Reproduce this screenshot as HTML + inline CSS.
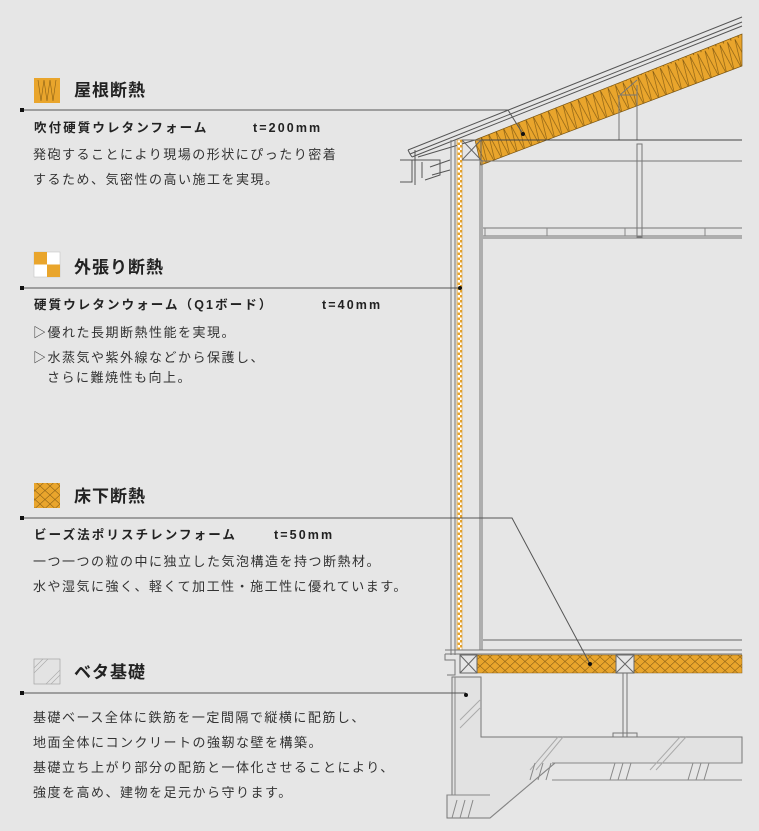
<!DOCTYPE html>
<html><head><meta charset="utf-8"><style>
body{margin:0;background:#e6e6e6;}
#c{position:relative;width:759px;height:831px;overflow:hidden;background:#e6e6e6;font-family:"Liberation Sans","Noto Sans CJK JP",sans-serif;color:#222;}
.t{position:absolute;white-space:nowrap;line-height:18px;}
.h{font-size:17px;font-weight:bold;letter-spacing:1px;line-height:22px;}
.s{font-size:12.5px;font-weight:bold;letter-spacing:2.1px;}
.b{font-size:13px;letter-spacing:1.5px;color:#333;}
svg{position:absolute;left:0;top:0;}
</style></head><body><div id="c">
<svg width="759" height="831" viewBox="0 0 759 831">
<defs>
<pattern id="zz" width="8" height="30" patternUnits="userSpaceOnUse" patternTransform="rotate(-21)">
<rect width="8" height="30" fill="#e9a52c"/><path d="M0 0 L4 30 L8 0" fill="none" stroke="#7a5410" stroke-width="0.6"/></pattern>
<pattern id="xx" width="10" height="9" patternUnits="userSpaceOnUse">
<rect width="10" height="9" fill="#e9a52c"/><path d="M0 0 L10 9 M10 0 L0 9" stroke="#8a6015" stroke-width="0.6"/></pattern>
<pattern id="ck" width="5" height="5" patternUnits="userSpaceOnUse">
<rect width="5" height="5" fill="#fff"/><rect width="2.5" height="2.5" fill="#e9a52c"/><rect x="2.5" y="2.5" width="2.5" height="2.5" fill="#e9a52c"/></pattern>
</defs>
<g fill="none" stroke="#555" stroke-width="1">
<path d="M408 150 L742 17 M410 154 L742 22 M412 157 L742 26"/>
<path d="M408 150 L410 154 L412 157"/>
<path d="M418 157 L475 140 M415 150 L415 185 M412 160 L440 160 L440 175 L425 180"/>
<path d="M400 160 L412 160 L412 182 L400 182"/>
<path d="M422 162 L422 178 M430 167 L450 160 M432 175 L450 170"/>
<polygon points="475,140 742,34 742,66 481,165" fill="url(#zz)" stroke="#7a5410" stroke-width="0.7"/>
<path d="M619 95 L619 140 M637 85 L637 140 M620 95 L637 95 M620 95 L637 80" stroke="#777"/>
<path d="M462 140 L742 140" stroke="#444"/>
<path d="M481 161 L742 161" stroke="#777"/>
<rect x="462" y="140" width="19" height="20" stroke="#666"/>
<path d="M462 140 L481 160 M481 140 L462 160" stroke="#666"/>
<rect x="637" y="144" width="5" height="93" stroke="#777"/>
<path d="M483 228 L742 228 M483 236 L742 236 M483 238 L742 238" stroke="#777"/>
<path d="M485 228 L485 236 M547 228 L547 236 M625 228 L625 236 M705 228 L705 236" stroke="#888"/>
<path d="M451 140 L451 655 M455 140 L455 655 M480 160 L480 650 M482 160 L482 650" stroke="#777"/>
<rect x="457" y="140" width="5" height="510" fill="url(#ck)" stroke="#c98a1e" stroke-width="0.5"/>
<path d="M483 640 L742 640" stroke="#666"/>
<path d="M445 650 L742 650 M445 654 L742 654" stroke="#777"/>
<path d="M445 654 L445 660 L455 660 L455 675 L447 675" stroke="#777"/>
<rect x="477" y="655" width="265" height="18" fill="url(#xx)" stroke="#8a6015" stroke-width="0.5"/>
<rect x="460" y="655" width="17" height="18" fill="#e6e6e6" stroke="#666"/>
<path d="M460 655 L477 673 M477 655 L460 673" stroke="#666"/>
<rect x="616" y="655" width="18" height="18" fill="#e6e6e6" stroke="#666"/>
<path d="M616 655 L634 673 M634 655 L616 673" stroke="#666"/>
<path d="M452 677 L481 677 L481 737 L742 737 L742 763 L555 763 L490 818 L447 818 L447 795 L452 795 Z" fill="#e2e2e2" stroke="#777"/>
<path d="M455 677 L455 795 M447 795 L490 795 M552 763 L742 763 M552 780 L742 780 M555 763 L490 818" stroke="#888"/>
<path d="M460 720 L480 700 M460 728 L480 708 M530 770 L558 737 M536 770 L563 737 M650 770 L680 737 M656 770 L686 737" stroke="#aaa"/>
<path d="M530 780 L535 763 M538 780 L543 763 M546 780 L551 763 M610 780 L615 763 M618 780 L623 763 M626 780 L631 763 M688 780 L693 763 M696 780 L701 763 M704 780 L709 763 M452 818 L457 800 M460 818 L465 800 M468 818 L473 800" stroke="#888"/>
<path d="M623 673 L623 737 M627 673 L627 737 M613 737 L637 737 L637 733 L613 733 Z" stroke="#777"/>
<g stroke="#555" stroke-width="1">
<path d="M22 110 L508 110 L523 134"/>
<path d="M22 288 L460 288"/>
<path d="M22 518 L512 518 L590 664"/>
<path d="M22 693 L466 693"/>
</g>
</g>
<g fill="#111">
<rect x="20" y="108" width="4" height="4"/><rect x="20" y="286" width="4" height="4"/><rect x="20" y="516" width="4" height="4"/><rect x="20" y="691" width="4" height="4"/>
<circle cx="523" cy="134" r="2"/><circle cx="460" cy="288" r="2"/><circle cx="590" cy="664" r="2"/><circle cx="466" cy="695" r="2"/>
</g>
<rect x="34" y="78" width="26" height="25" fill="#e9a52c"/>
<path d="M38 80 L41 101 L44 80 L47 101 L50 80 L53 101 L56 80" fill="none" stroke="#8a6015" stroke-width="0.6"/>
<rect x="34" y="252" width="26" height="25" fill="#fff" stroke="#bbb" stroke-width="0.5"/>
<rect x="34" y="252" width="13" height="12.5" fill="#e9a52c"/><rect x="47" y="264.5" width="13" height="12.5" fill="#e9a52c"/>
<rect x="34" y="483" width="26" height="25" fill="url(#xx)"/>
<rect x="34" y="659" width="26" height="25" fill="#e3e3e3" stroke="#999" stroke-width="0.6"/>
<path d="M34 668 L43 659 M34 673 L48 659 M46 684 L60 670 M51 684 L60 675" stroke="#aaa" stroke-width="0.6"/>
</svg>
<div class="t h" style="left:74px;top:80px">屋根断熱</div>
<div class="t s" style="left:34px;top:119px">吹付硬質ウレタンフォーム</div>
<div class="t s" style="left:253px;top:119px">t=200mm</div>
<div class="t b" style="left:33px;top:146px">発砲することにより現場の形状にぴったり密着</div>
<div class="t b" style="left:33px;top:171px">するため、気密性の高い施工を実現。</div>
<div class="t h" style="left:74px;top:257px">外張り断熱</div>
<div class="t s" style="left:34px;top:296px">硬質ウレタンウォーム（Q1ボード）</div>
<div class="t s" style="left:322px;top:296px">t=40mm</div>
<div class="t b" style="left:33px;top:324px">▷優れた長期断熱性能を実現。</div>
<div class="t b" style="left:33px;top:349px">▷水蒸気や紫外線などから保護し、</div>
<div class="t b" style="left:47px;top:369px">さらに難焼性も向上。</div>
<div class="t h" style="left:74px;top:486px">床下断熱</div>
<div class="t s" style="left:34px;top:526px">ビーズ法ポリスチレンフォーム</div>
<div class="t s" style="left:274px;top:526px">t=50mm</div>
<div class="t b" style="left:33px;top:553px">一つ一つの粒の中に独立した気泡構造を持つ断熱材。</div>
<div class="t b" style="left:33px;top:578px">水や湿気に強く、軽くて加工性・施工性に優れています。</div>
<div class="t h" style="left:74px;top:662px">ベタ基礎</div>
<div class="t b" style="left:33px;top:709px">基礎ベース全体に鉄筋を一定間隔で縦横に配筋し、</div>
<div class="t b" style="left:33px;top:734px">地面全体にコンクリートの強靭な壁を構築。</div>
<div class="t b" style="left:33px;top:759px">基礎立ち上がり部分の配筋と一体化させることにより、</div>
<div class="t b" style="left:33px;top:784px">強度を高め、建物を足元から守ります。</div>
</div></body></html>
